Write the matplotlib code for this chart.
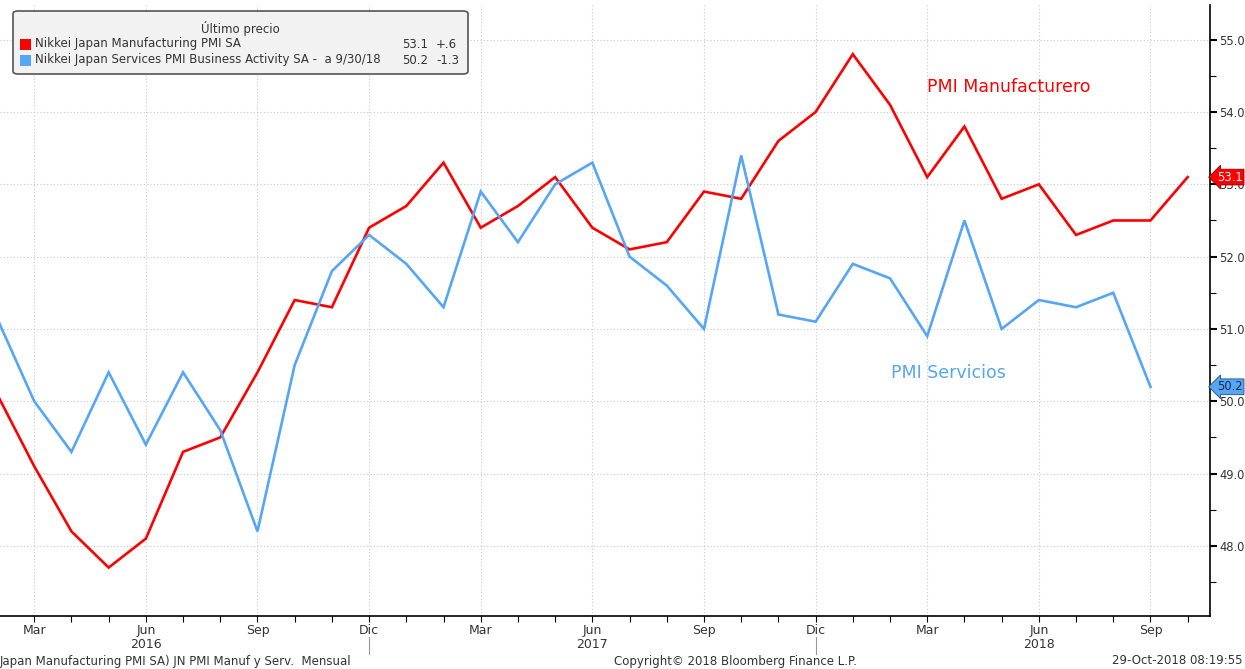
import matplotlib
matplotlib.use("Agg")
import matplotlib.pyplot as plt
from matplotlib.patches import FancyBboxPatch
from matplotlib.transforms import blended_transform_factory
from matplotlib.ticker import MultipleLocator, FixedLocator

plt.rcParams['font.family'] = ['DejaVu Sans']

# Monthly, Feb 2016 .. Oct 2018
months = ["Feb", "Mar", "Abr", "May", "Jun", "Jul", "Ago", "Sep", "Oct", "Nov", "Dic",
          "Ene", "Feb", "Mar", "Abr", "May", "Jun", "Jul", "Ago", "Sep", "Oct", "Nov", "Dic",
          "Ene", "Feb", "Mar", "Abr", "May", "Jun", "Jul", "Ago", "Sep", "Oct"]
manuf = [50.1, 49.1, 48.2, 47.7, 48.1, 49.3, 49.5, 50.4, 51.4, 51.3, 52.4,
         52.7, 53.3, 52.4, 52.7, 53.1, 52.4, 52.1, 52.2, 52.9, 52.8, 53.6, 54.0,
         54.8, 54.1, 53.1, 53.8, 52.8, 53.0, 52.3, 52.5, 52.5, 53.1]
serv = [51.15, 50.0, 49.3, 50.4, 49.4, 50.4, 49.6, 48.2, 50.5, 51.8, 52.3,
        51.9, 51.3, 52.9, 52.2, 53.0, 53.3, 52.0, 51.6, 51.0, 53.4, 51.2, 51.1,
        51.9, 51.7, 50.9, 52.5, 51.0, 51.4, 51.3, 51.5, 50.2]
tick_idx = [1, 4, 7, 10, 13, 16, 19, 22, 25, 28, 31]
tick_labels = ["Mar", "Jun", "Sep", "Dic", "Mar", "Jun", "Sep", "Dic", "Mar", "Jun", "Sep"]
years = ["2016", "2017", "2018"]
year_idx = [4, 16, 28]
sep_idx = [10, 22]

RED = "#ff0000"
BLUE = "#55a6f7"
TXT = "#333333"

W, H = 1245.0, 669.0
fig = plt.figure(figsize=(12.45, 6.69), dpi=100)
ax_h = 611
ax = fig.add_axes([0.0, 1 - 616 / H, 1210 / W, ax_h / H])

x_m = list(range(len(manuf)))
x_s = list(range(len(serv)))
ax.plot(x_m, manuf, color=RED, lw=1.9, solid_joinstyle='miter', zorder=3)
ax.plot(x_s, serv, color=BLUE, lw=1.9, solid_joinstyle='miter', zorder=3)

ax.set_xlim(0.08, 32.6)
ax.set_ylim(47.03, 55.48)

# y axis on right
ax.yaxis.tick_right()
ax.yaxis.set_major_locator(MultipleLocator(1.0))
ax.yaxis.set_minor_locator(MultipleLocator(0.5))
ax.yaxis.set_major_formatter(matplotlib.ticker.FormatStrFormatter('%.1f'))
ax.tick_params(axis='y', which='major', direction='out', length=5, width=1.5,
               labelsize=8.3, labelcolor=TXT, pad=1.5, color='black')
ax.tick_params(axis='y', which='minor', direction='out', length=4, width=0.8, color='black')

# x axis
ax.xaxis.set_major_locator(FixedLocator(tick_idx))
ax.set_xticklabels(tick_labels)
ax.xaxis.set_minor_locator(FixedLocator(list(range(0, 33))))
ax.tick_params(axis='x', which='major', direction='out', length=4, width=0.8,
               labelsize=9, labelcolor=TXT, pad=2)
ax.tick_params(axis='x', which='minor', direction='out', length=4, width=0.8)

for s in ['top', 'left']:
    ax.spines[s].set_visible(False)
ax.spines['right'].set_linewidth(1.2)
ax.spines['bottom'].set_linewidth(1.2)

ax.grid(True, which='major', color='#c8c8c8', linestyle=(0, (1, 2)), lw=0.8)
ax.set_axisbelow(True)

trans = blended_transform_factory(ax.transData, ax.transAxes)
for yi, yl in zip(year_idx, years):
    ax.text(yi, -0.036, yl, transform=trans, ha='center', va='top', fontsize=9, color=TXT)
for si in sep_idx:
    ax.plot([si, si], [-0.034, -0.062], transform=trans, color='#999999', lw=0.8, clip_on=False)

# annotations
ax.text(27.18, 54.35, "PMI Manufacturero", color=RED, fontsize=12.5, ha='center', va='center')
ax.text(25.56, 50.39, "PMI Servicios", color=BLUE, fontsize=12.5, ha='center', va='center')

# right tags
transr = blended_transform_factory(ax.transAxes, ax.transData)
ax.annotate(f"{manuf[-1]:.1f}", xy=(1.0, manuf[-1]), xycoords=transr, xytext=(5, 0),
            textcoords='offset points', ha='left', va='center', fontsize=8.3, color='white',
            bbox=dict(boxstyle='larrow,pad=0.12', fc=RED, ec='#8b0000', lw=0.6),
            annotation_clip=False, zorder=5)
ax.annotate(f"{serv[-1]:.1f}", xy=(1.0, serv[-1]), xycoords=transr, xytext=(5, 0),
            textcoords='offset points', ha='left', va='center', fontsize=8.3, color='#1a2a40',
            bbox=dict(boxstyle='larrow,pad=0.12', fc=BLUE, ec='#1f4f80', lw=0.6),
            annotation_clip=False, zorder=5)

# legend box
def fx(px):
    return px / W
def fy(py):
    return 1 - py / H
box = FancyBboxPatch((fx(13), fy(74)), fx(468) - fx(13), fy(11) - fy(74),
                     boxstyle='round,pad=0,rounding_size=0.004',
                     transform=fig.transFigure, fc='#f2f2f2', ec='#555555', lw=1.2, zorder=10)
fig.patches.append(box)
fig.text(fx(240), fy(28), "Último precio", ha='center', va='center', fontsize=8.5, color=TXT, zorder=11)
rows = [
    (RED, "Nikkei Japan Manufacturing PMI SA", manuf[-1], manuf[-1] - manuf[-2], 44),
    (BLUE, "Nikkei Japan Services PMI Business Activity SA -  a 9/30/18", serv[-1], serv[-1] - serv[-2], 60),
]
for col, lab, last, chg, py in rows:
    fig.patches.append(FancyBboxPatch((fx(20), fy(py + 6)), fx(31) - fx(20), fy(py - 5) - fy(py + 6),
                                      boxstyle='square,pad=0', transform=fig.transFigure,
                                      fc=col, ec='none', zorder=11))
    fig.text(fx(35), fy(py), lab, ha='left', va='center', fontsize=8.5, color=TXT, zorder=11)
    fig.text(fx(428), fy(py), f"{last:.1f}", ha='right', va='center', fontsize=8.5, color=TXT, zorder=11)
    chs = f"{chg:+.1f}".replace("+0.", "+.").replace("-0.", "-.")
    fig.text(fx(436), fy(py), chs, ha='left', va='center', fontsize=8.5, color=TXT, zorder=11)

# footer
fig.text(0.0, fy(661), "Japan Manufacturing PMI SA) JN PMI Manuf y Serv.  Mensual", ha='left',
         va='center', fontsize=8.5, color=TXT)
fig.text(fx(735), fy(661), "Copyright© 2018 Bloomberg Finance L.P.", ha='center', va='center',
         fontsize=8.5, color=TXT)
fig.text(fx(1243), fy(661), "29-Oct-2018 08:19:55", ha='right', va='center', fontsize=8.5, color=TXT)

fig.savefig("out.png", dpi=100)
